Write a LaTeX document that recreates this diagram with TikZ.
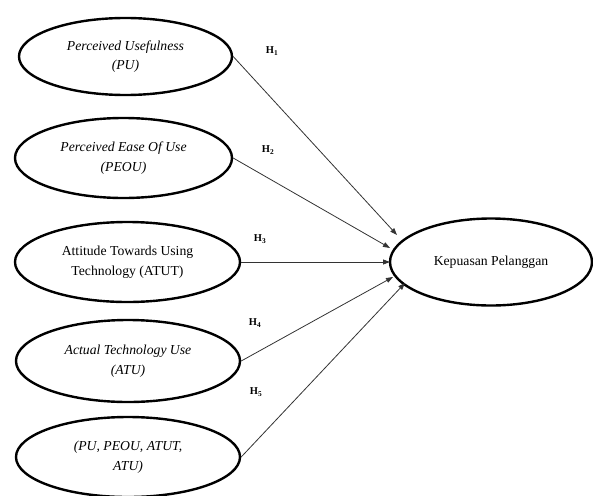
\documentclass[tikz,border=0pt]{standalone}
\usepackage{fontspec}
\setmainfont{Liberation Serif}
\usetikzlibrary{shapes.geometric,arrows.meta}
\begin{document}
\begin{tikzpicture}[x=1pt,y=-1pt,
  ell/.style={draw,ellipse,line width=2.4pt,inner sep=0pt,align=center,font=\fontsize{13.7}{19.5}\selectfont},
  conn/.style={draw=black!80,line width=0.8pt,-{Triangle[length=7pt,width=5pt]}},
  hlab/.style={font=\fontsize{10.5}{12}\selectfont\bfseries,inner sep=0pt}]
\useasboundingbox (0,0) rectangle (593,495);
\node[ell,minimum width=213pt,minimum height=77pt] (pu) at (125.5,56.5) {\itshape Perceived Usefulness\\\itshape (PU)};
\node[ell,minimum width=217pt,minimum height=80pt] (peou) at (123.5,158) {\itshape Perceived Ease Of Use\\\itshape (PEOU)};
\node[ell,minimum width=225pt,minimum height=80pt] (atut) at (127.5,262) {Attitude Towards Using\\Technology (ATUT)};
\node[ell,minimum width=224pt,minimum height=82pt] (atu) at (128,361) {\itshape Actual Technology Use\\\itshape (ATU)};
\node[ell,minimum width=224pt,minimum height=80pt] (all) at (128,457) {\itshape (PU, PEOU, ATUT,\\\itshape ATU)};
\node[ell,minimum width=202pt,minimum height=87pt] (kp) at (491,262) {Kepuasan Pelanggan};
\coordinate (t1) at (397,235);
\coordinate (t2) at (390,248);
\coordinate (t3) at (390,262);
\coordinate (t4) at (393,277);
\coordinate (t5) at (405,283);
\draw[conn] (pu.east) -- (t1);
\draw[conn] (peou.east) -- (t2);
\draw[conn] (atut.east) -- (t3);
\draw[conn] (atu.east) -- (t4);
\draw[conn] (all.east) -- (t5);
\node[hlab] (h1) at (272,51) {H\textsubscript{1}};
\node[hlab] (h2) at (268,150) {H\textsubscript{2}};
\node[hlab] (h3) at (260,239) {H\textsubscript{3}};
\node[hlab] (h4) at (255,323) {H\textsubscript{4}};
\node[hlab] (h5) at (256,392) {H\textsubscript{5}};
\end{tikzpicture}
\end{document}
